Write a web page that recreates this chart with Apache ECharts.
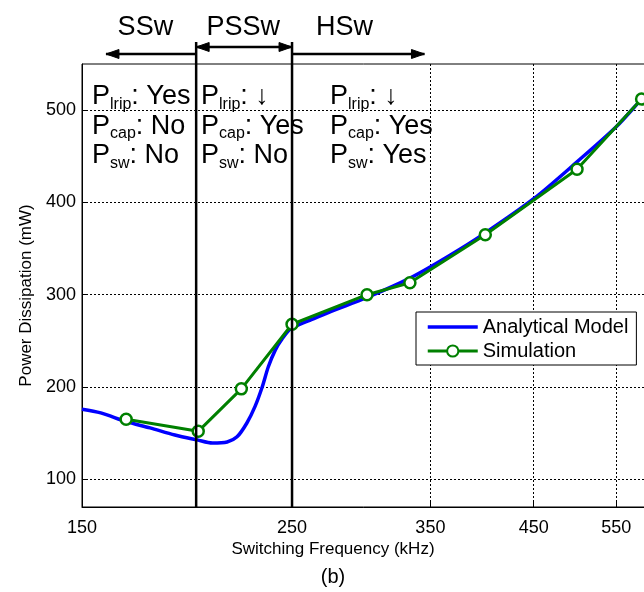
<!DOCTYPE html>
<html>
<head>
<meta charset="utf-8">
<script src="https://cdn.jsdelivr.net/npm/echarts@6/dist/echarts.min.js"></script>
<style>
  html, body { margin: 0; padding: 0; background: #ffffff; }
  #chart { width: 644px; height: 592px; }
</style>
</head>
<body>
<div id="chart"></div>
<script>
// Axis ticks
const xTicks = [150, 250, 350, 450, 550];
const yTicks = [100, 200, 300, 400, 500];

// Analytical model curve (kHz, mW)
const modelFreq  = [150, 157, 167, 177, 188, 198.5, 206, 213.5, 218.7, 224, 228.5, 232.5, 236, 240, 244, 249, 255, 262, 275, 300, 333, 366, 400, 450, 500, 550, 585, 600];
const modelPower = [176, 172, 162.5, 155.7, 148, 142.7, 139.4, 140.5, 146, 161, 179, 200, 222, 240, 252, 263, 268, 273, 282, 297, 318, 342, 367, 404, 444, 482, 512, 524];

// Simulation points (kHz, mW)
const simFreq  = [167, 199, 221, 250, 300, 333, 400, 500, 585];
const simPower = [165, 152, 198, 268, 300, 313, 365, 436, 512];

// Operating regions: arrow extents and boundary lines (kHz)
const regionNames  = ['SSw', 'PSSw', 'HSw'];
const regionStart  = [159, 198, 250];
const regionEnd    = [198, 250, 345];
const regionLabelF = [175, 222, 284];
const boundaries   = [198, 250];

// Loss components present in each region
const lossSubs = ['lrip', 'cap', 'sw'];
const lossState = [
  ['Yes', 'No', 'No'],
  ['\u2193', 'Yes', 'No'],
  ['\u2193', 'Yes', 'Yes']
];

const FONT = 'Arial, "Liberation Sans", Helvetica, sans-serif';

const chart = echarts.init(document.getElementById('chart'), null, { renderer: 'canvas' });

const option = {
  backgroundColor: '#ffffff',
  animation: false,
  textStyle: { fontFamily: FONT, color: '#000' },
  grid: {
    left: 82, top: 64, right: -8, bottom: 85,
    show: true, borderColor: '#000', borderWidth: 1,
    outerBoundsMode: 'none'
  },
  legend: {
    orient: 'vertical',
    left: 416, top: 312,
    padding: [5, 8, 4, 10],
    itemWidth: 50, itemHeight: 14, itemGap: 4,
    backgroundColor: '#ffffff',
    borderColor: '#000', borderWidth: 1,
    textStyle: { fontSize: 20, color: '#000', fontFamily: FONT },
    data: [
      { name: 'Analytical Model', itemStyle: { opacity: 0 }, lineStyle: { width: 3.5 } },
      { name: 'Simulation', lineStyle: { width: 3 } }
    ]
  },
  xAxis: {
    type: 'log', logBase: 10, min: 150, max: 600,
    axisLine: { show: true, lineStyle: { color: '#000', width: 1 } },
    axisTick: { show: true, inside: true, length: 5, customValues: xTicks, lineStyle: { color: '#000' } },
    axisLabel: { customValues: xTicks, fontSize: 18, color: '#000', margin: 12, fontFamily: FONT,
                 formatter: v => String(Math.round(v)) },
    splitLine: { show: true, lineStyle: { color: '#000', type: [2, 2], width: 1 } },
    minorTick: { show: false }, minorSplitLine: { show: false }
  },
  yAxis: {
    type: 'value', min: 70, max: 550,
    name: 'Power Dissipation (mW)', nameLocation: 'middle', nameGap: 46,
    nameTextStyle: { fontSize: 17, color: '#000', fontFamily: FONT, padding: [0, 20, 0, 0] },
    axisLine: { show: true, lineStyle: { color: '#000', width: 1 } },
    axisTick: { show: true, inside: true, length: 5, customValues: yTicks, lineStyle: { color: '#000' } },
    axisLabel: { customValues: yTicks, fontSize: 18, color: '#000', margin: 6, fontFamily: FONT },
    splitLine: { show: true, lineStyle: { color: '#000', type: [2, 2], width: 1 } }
  },
  series: [
    {
      name: 'Analytical Model', type: 'line',
      data: modelFreq.map((f, i) => [f, modelPower[i]]),
      smooth: 0.3, symbol: 'none', clip: true,
      lineStyle: { color: '#0000ff', width: 3.5 },
      itemStyle: { color: '#0000ff' },
      z: 2
    },
    {
      name: 'Simulation', type: 'line',
      data: simFreq.map((f, i) => [f, simPower[i]]),
      symbol: 'circle', symbolSize: 11, clip: true,
      lineStyle: { color: '#008000', width: 3 },
      itemStyle: { color: '#ffffff', borderColor: '#008000', borderWidth: 2.5 },
      z: 3
    }
  ]
};

chart.setOption(option);

const px = f => chart.convertToPixel({ xAxisIndex: 0 }, f);
const py = v => chart.convertToPixel({ yAxisIndex: 0 }, v);

const graphics = [];
const bottomY = py(70);
const lineTop = 42;

// Region boundary lines
boundaries.forEach(f => {
  const x = px(f);
  graphics.push({
    type: 'line', z: 100,
    shape: { x1: x, y1: lineTop, x2: x, y2: bottomY },
    style: { stroke: '#000', lineWidth: 2.5 }
  });
});

function arrowHead(tipX, y, dir) {
  const len = 13, half = 4.5;
  return {
    type: 'polygon', z: 100,
    shape: { points: [[tipX, y], [tipX + dir * len, y - half], [tipX + dir * len, y + half]] },
    style: { fill: '#000', stroke: '#000', lineWidth: 1 }
  };
}

// Region arrows
const arrowY = [54, 47, 54];
regionNames.forEach((name, i) => {
  const x1 = px(regionStart[i]);
  const x2 = px(regionEnd[i]);
  const y = arrowY[i];
  graphics.push({
    type: 'line', z: 100,
    shape: { x1: x1, y1: y, x2: x2, y2: y },
    style: { stroke: '#000', lineWidth: 2.5 }
  });
  if (i === 0 || i === 1) graphics.push(arrowHead(x1, y, 1));
  if (i === 1 || i === 2) graphics.push(arrowHead(x2, y, -1));
  graphics.push({
    type: 'text', z: 100,
    x: px(regionLabelF[i]), y: 28,
    style: { text: name, font: '27px ' + FONT, fill: '#000', align: 'center', verticalAlign: 'middle' }
  });
});

// Loss component annotations
const colX = [92, 201, 330];
const rowY = [97, 126.5, 156];
lossState.forEach((col, c) => {
  col.forEach((state, r) => {
    graphics.push({
      type: 'text', z: 90,
      x: colX[c], y: rowY[r],
      style: {
        text: '{p|P}{s|' + lossSubs[r] + '}{t|: ' + state + '}',
        align: 'left', verticalAlign: 'middle',
        rich: {
          p: { fontSize: 27, fontFamily: FONT, fill: '#000', lineHeight: 30 },
          s: { fontSize: 16, fontFamily: FONT, fill: '#000', lineHeight: 16, padding: [15, 0, 0, 0] },
          t: { fontSize: 27, fontFamily: FONT, fill: '#000', lineHeight: 30 }
        }
      }
    });
  });
});

// Axis title and panel label
graphics.push({
  type: 'text', x: 333, y: 549,
  style: { text: 'Switching Frequency (kHz)', font: '17px ' + FONT, fill: '#000', align: 'center', verticalAlign: 'middle' }
});
graphics.push({
  type: 'text', x: 333, y: 577,
  style: { text: '(b)', font: '20px ' + FONT, fill: '#000', align: 'center', verticalAlign: 'middle' }
});

chart.setOption({ graphic: graphics });
</script>
</body>
</html>
